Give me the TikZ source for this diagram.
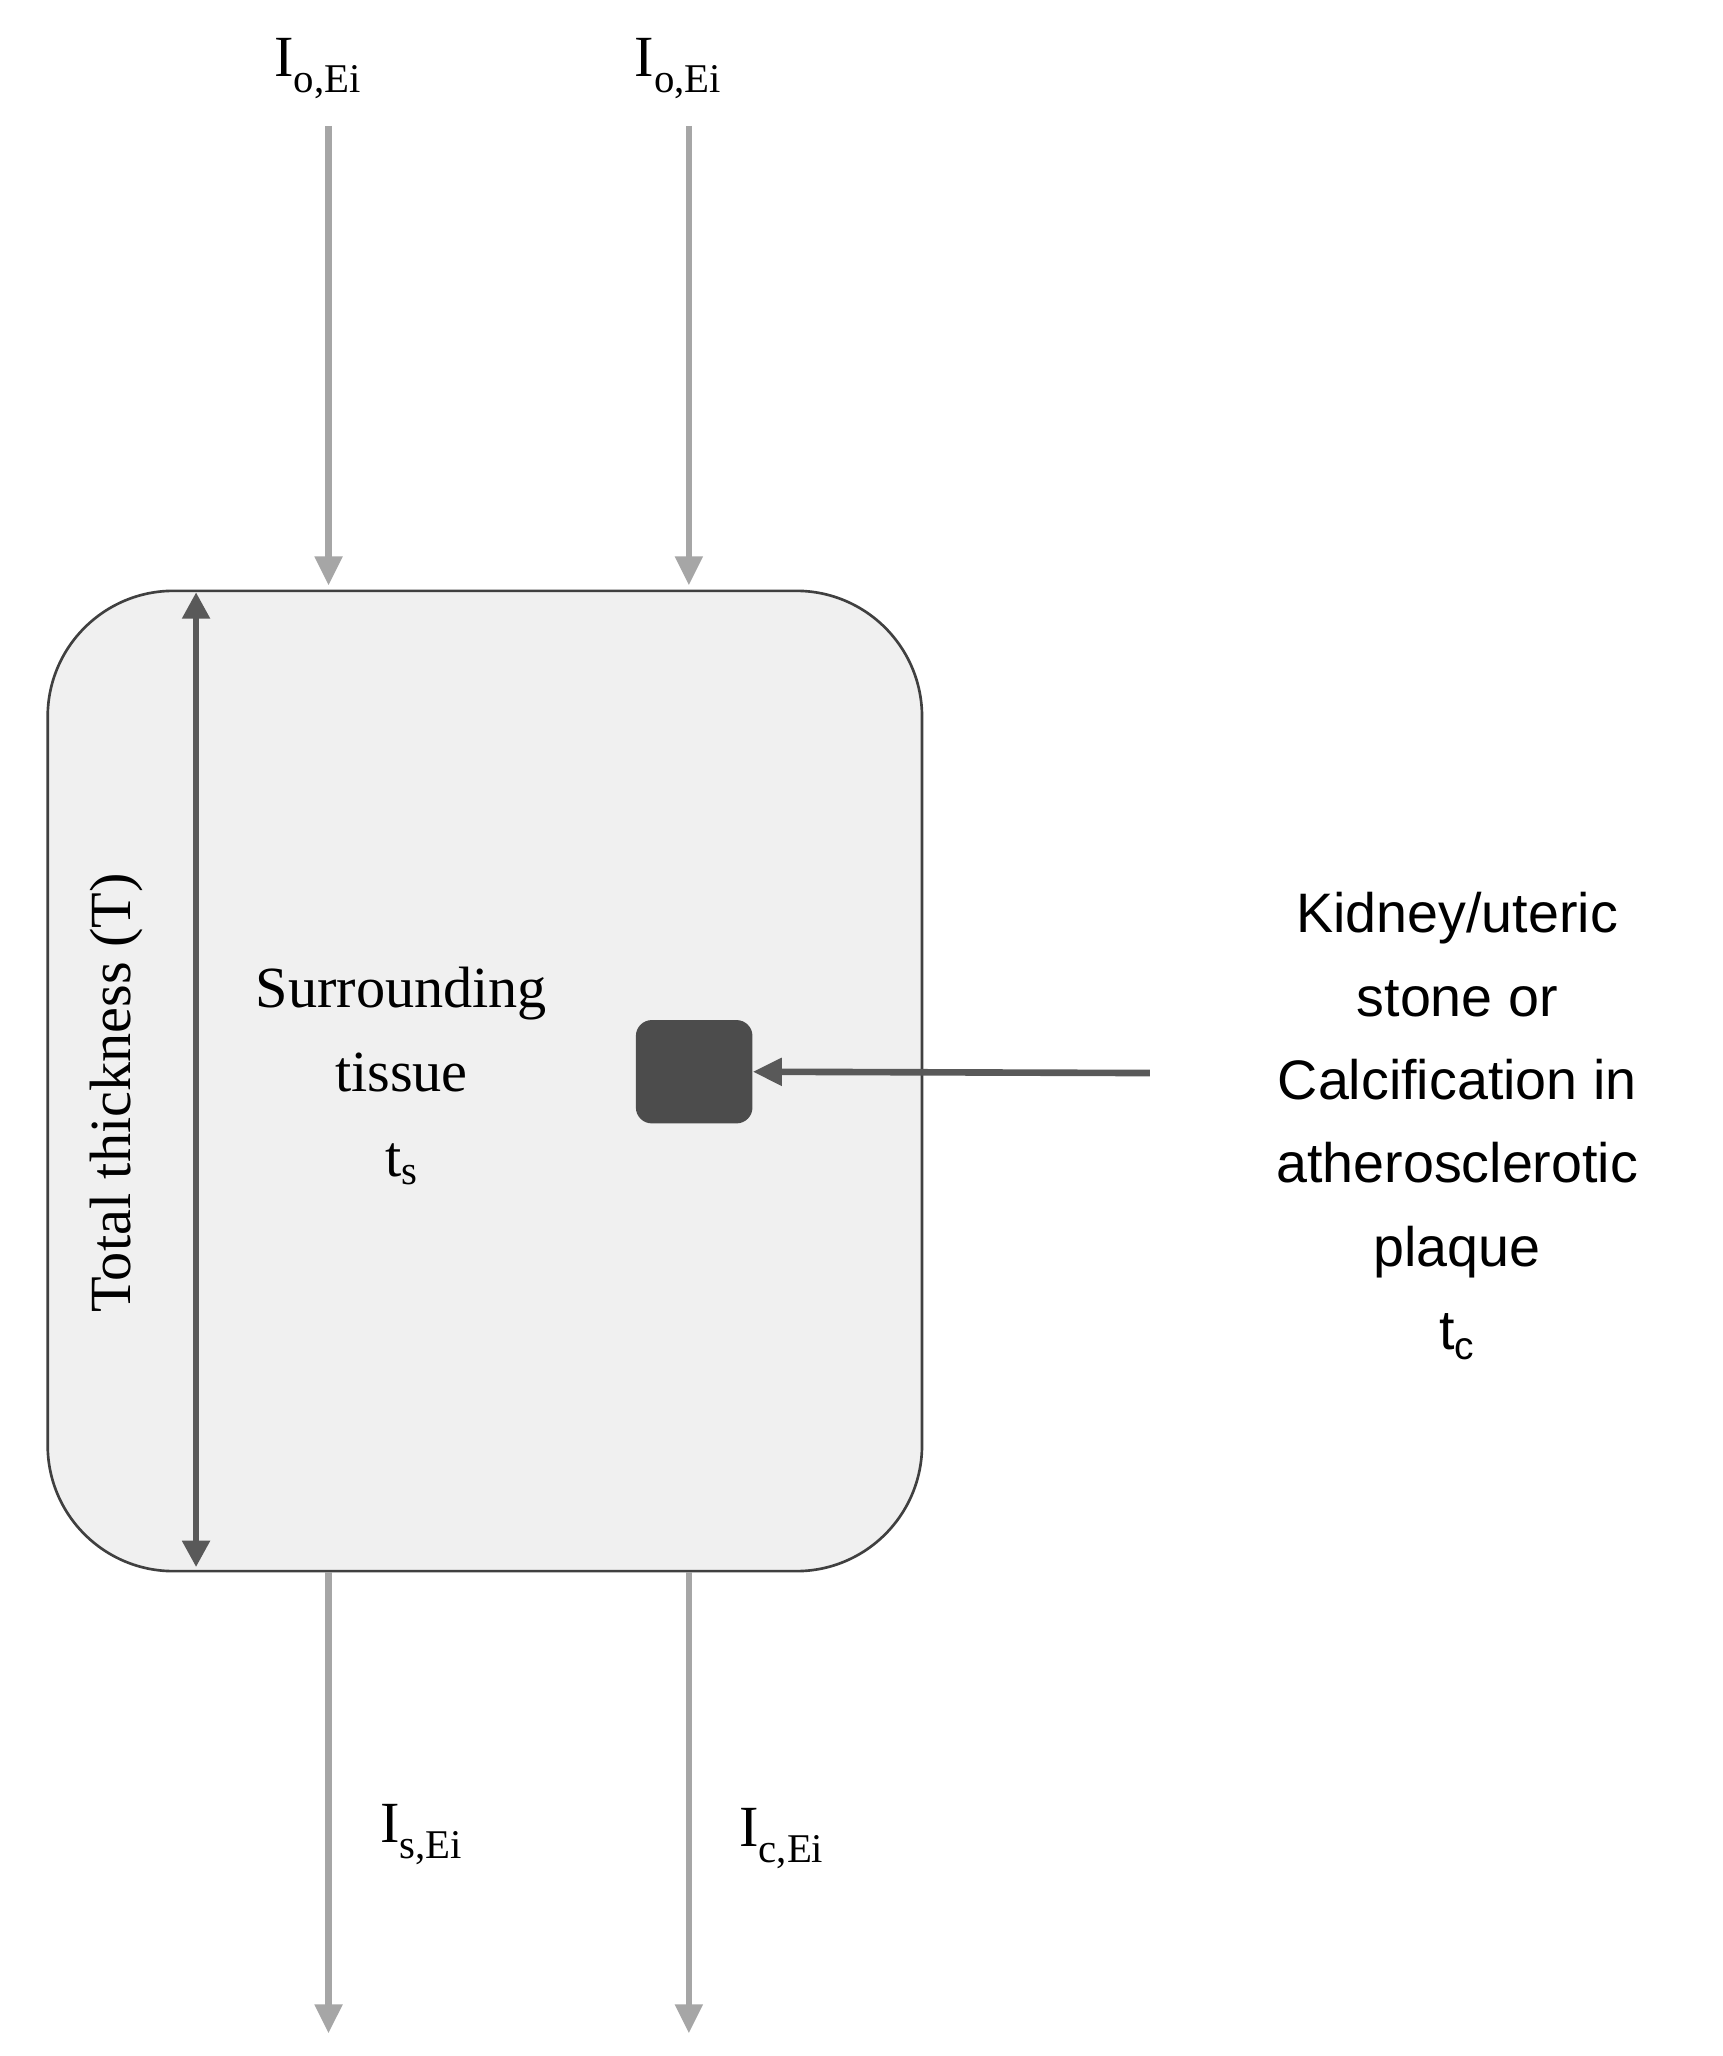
\documentclass[tikz,border=0pt]{standalone}
\usepackage{fontspec}
\setmainfont{Liberation Serif}
\newfontfamily\labelsans{Liberation Sans}
\usetikzlibrary{positioning,arrows.meta}
\tikzset{
  beam/.style={draw=black!35, line width=5pt, -{Triangle[length=22pt,width=20pt]}},
  lbl/.style={font=\fontsize{44}{52}\selectfont, inner sep=0pt},
}
\begin{document}
\begin{tikzpicture}[x=1pt,y=-1pt]
\useasboundingbox (0,0) rectangle (1300,1552);

\node[draw=black!75, fill=black!6, line width=2pt, rounded corners=95pt,
      minimum width=660pt, minimum height=740pt, anchor=north west] (body) at (35,445) {};

\coordinate (inA) at (248,95);
\coordinate (inB) at (520,95);
\coordinate (topA) at (248,442);
\coordinate (topB) at (520,442);
\coordinate (botA) at (248,1187);
\coordinate (botB) at (520,1187);
\coordinate (outA) at (248,1535);
\coordinate (outB) at (520,1535);

\draw[beam] (inA) -- (topA);
\draw[beam] (inB) -- (topB);
\draw[beam] (botA) -- (outA);
\draw[beam] (botB) -- (outB);

\node[lbl] (lblA) at (240,52) {I\textsubscript{o,Ei}};
\node[lbl] (lblB) at (512,52) {I\textsubscript{o,Ei}};
\node[lbl] (lblS) at (318,1385) {I\textsubscript{s,Ei}};
\node[lbl] (lblC) at (590,1388) {I\textsubscript{c,Ei}};

% total thickness
\coordinate (thkTop) at (148,447);
\coordinate (thkBot) at (148,1183);
\draw[draw=black!65, line width=5pt, {Triangle[length=20pt,width=20pt]}-{Triangle[length=20pt,width=20pt]}] (thkTop) -- (thkBot);
\node[lbl, rotate=90] (thk) at (88,825) {Total thickness (T)};

\node[lbl, align=center, font=\fontsize{44}{64}\selectfont] (tissue) at (303,812) {Surrounding\\tissue\\t\textsubscript{s}};

\node[fill=black!70, rounded corners=12pt, minimum width=88pt, minimum height=78pt, inner sep=0pt] (stone) at (524,809) {};

\node[lbl, align=center, font=\labelsans\fontsize{42}{63}\selectfont] (stonetxt) at (1100,850)
  {Kidney/uteric\\stone or\\Calcification in\\atherosclerotic\\plaque\\t\textsubscript{c}};

\coordinate (ptr) at (868,810);
\draw[draw=black!65, line width=5pt, -{Triangle[length=22pt,width=20pt]}] (ptr) -- (stone.east);
\end{tikzpicture}
\end{document}
